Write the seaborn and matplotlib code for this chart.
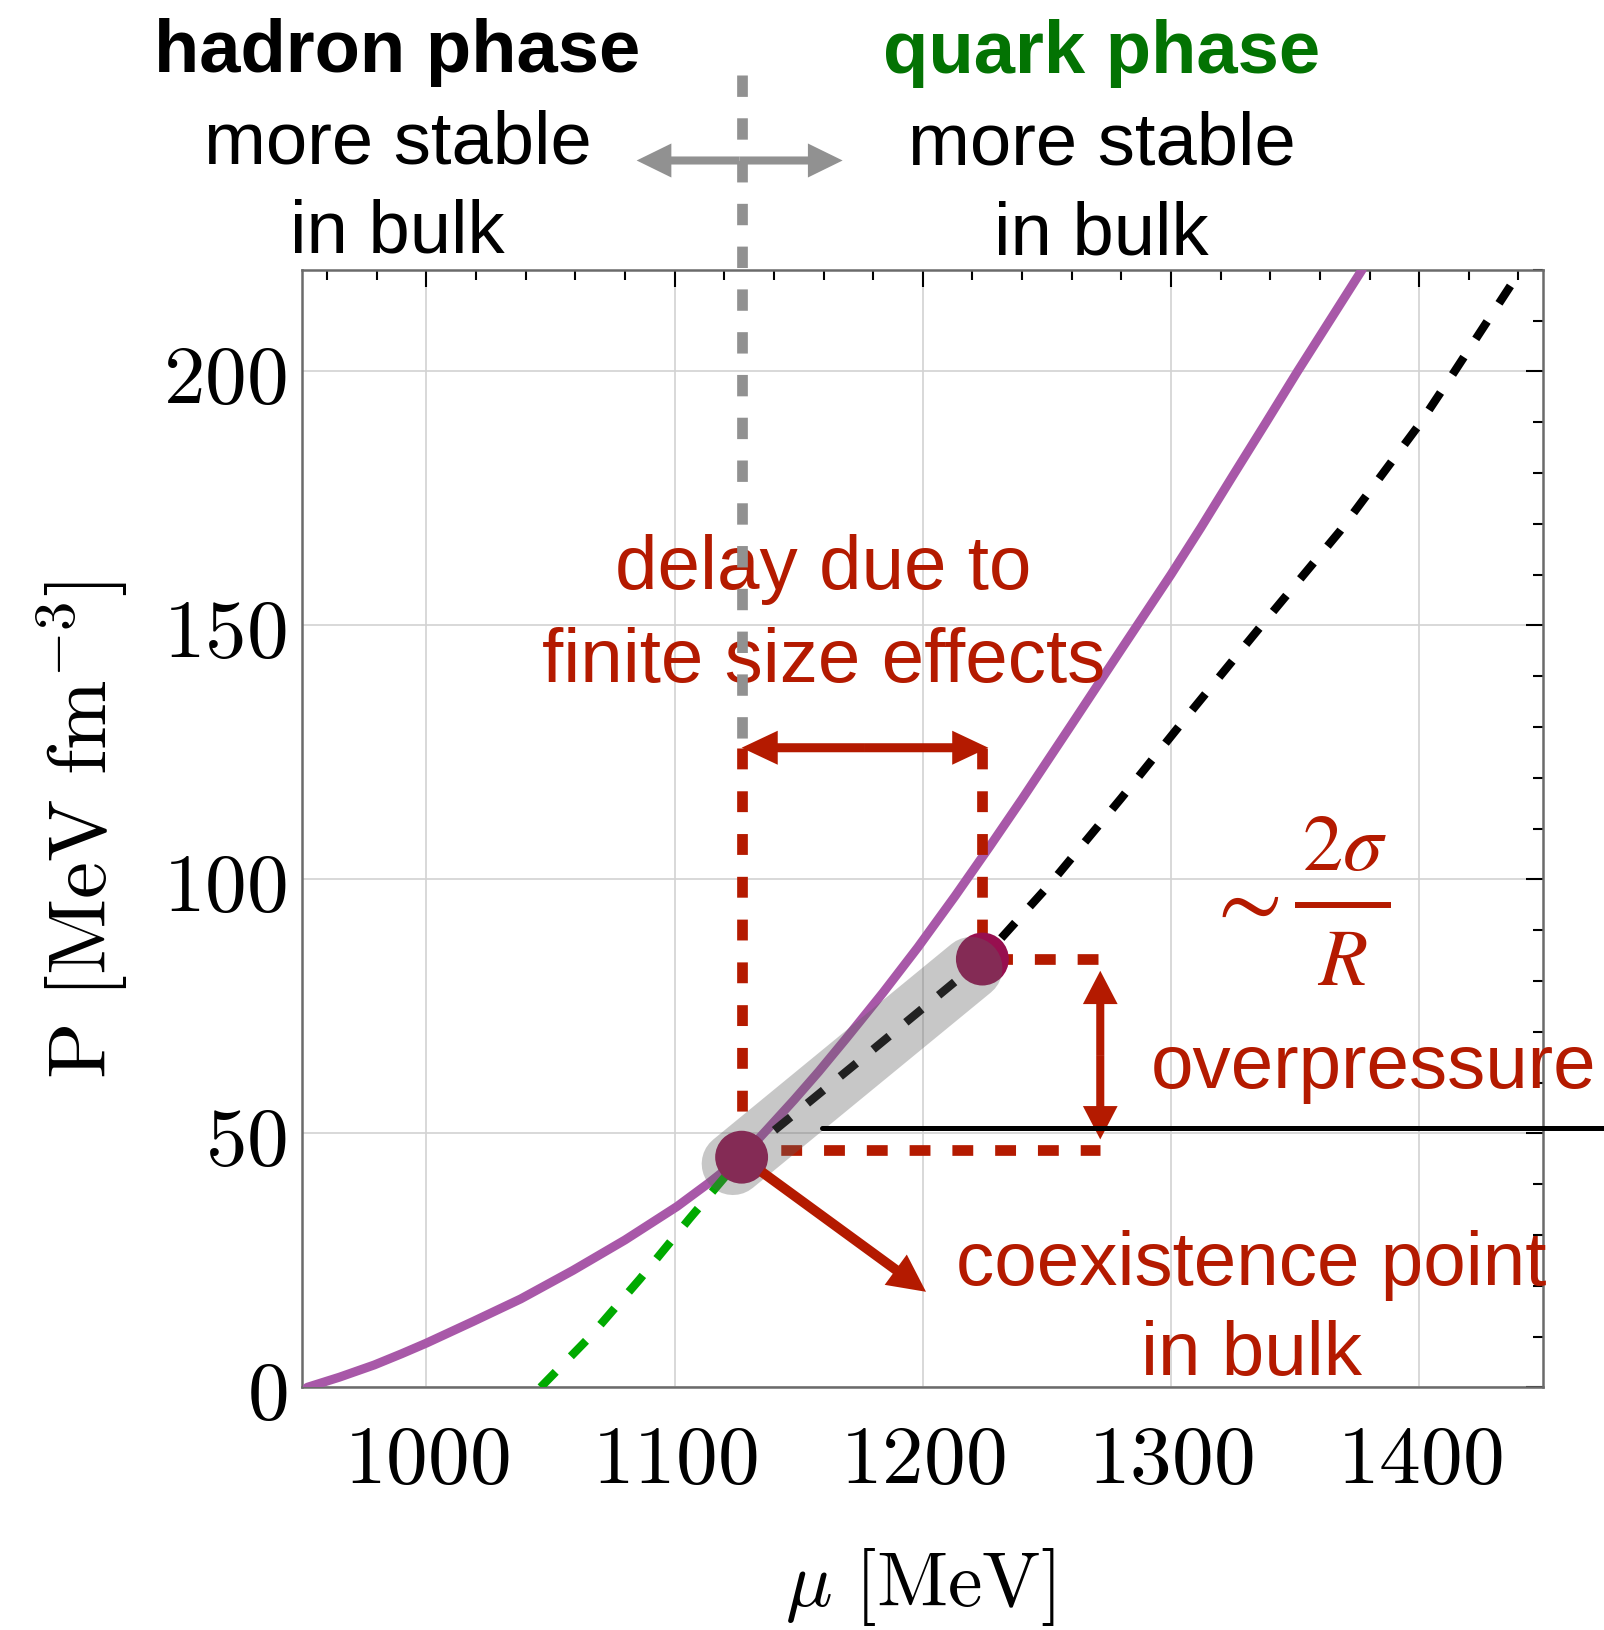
import matplotlib
matplotlib.use("Agg")
import matplotlib.pyplot as plt
import seaborn as sns
from matplotlib.ticker import MultipleLocator, FuncFormatter
from matplotlib.patches import FancyArrowPatch

# ---------------- data ----------------
# solid curve: hadron pressure below the coexistence point, finite-size branch above
mu_purple = [952, 965, 979, 990, 1000, 1019, 1038, 1059, 1080, 1101, 1114, 1127,
             1137, 1148, 1158, 1169, 1184, 1198, 1213, 1227, 1240, 1260, 1280,
             1300, 1312, 1325, 1338, 1351, 1364, 1377]
p_purple = [0.0, 2.0, 4.4, 6.6, 8.7, 13.0, 17.4, 23.0, 29.0, 35.6, 40.3, 45.3,
            50.6, 56.5, 62.1, 68.6, 77.7, 86.6, 96.7, 106.5, 115.8, 130.5, 145.3,
            160.0, 169.2, 179.5, 189.7, 200.0, 210.0, 220.0]

# quark pressure below the coexistence point (green, dashed)
mu_green = [1046, 1066, 1086, 1106, 1127]
p_green = [0.0, 10.0, 21.3, 33.2, 45.3]

# bulk pressure above the coexistence point (black, dashed)
mu_black = [1127, 1175, 1224, 1251.5, 1280, 1308, 1336.5, 1368, 1400, 1413.6, 1441]
p_black = [45.3, 64.5, 84.3, 99.2, 116.0, 133.0, 150.0, 168.5, 189.5, 199.5, 220.0]

# coexistence point in bulk and delayed transition point
mu_points = [1127, 1224]
p_points = [45.3, 84.3]

# annotation levels
p_delay_arrow = 125.9        # level of the "delay" double arrow
p_low_ref = 46.7             # lower end of the overpressure bracket
mu_bracket = 1271.5          # position of the overpressure arrow
p_hline = 51.1               # black reference line
mu_hline = [1159.4, 1474.5]

x_ticks = [1000, 1100, 1200, 1300, 1400]
y_ticks = [0, 50, 100, 150, 200]

# ---------------- style ----------------
sns.set_theme(style="white")
plt.rcParams["mathtext.fontset"] = "cm"
plt.rcParams["font.family"] = ["Liberation Sans", "DejaVu Sans"]
plt.rcParams["text.color"] = "black"
plt.rcParams["axes.labelcolor"] = "black"
plt.rcParams["xtick.color"] = "black"
plt.rcParams["ytick.color"] = "black"

PURPLE = "#a858a8"
GREEN = "#00aa00"
RED = "#b41a00"
DOT = "#970f4f"
GRAY = "#919191"
TXT_GREEN = "#037303"

fig = plt.figure(figsize=(16.04, 16.31), dpi=100)
ax = fig.add_axes([0.18847, 0.14880, 0.77369, 0.68522])
ax.set_xlim(950, 1450)
ax.set_ylim(0, 220)

ax.set_xticks(x_ticks)
ax.set_yticks(y_ticks)
ax.xaxis.set_minor_locator(MultipleLocator(20))
ax.yaxis.set_minor_locator(MultipleLocator(10))
fmt = FuncFormatter(lambda v, p: f"${v:.0f}$")
ax.xaxis.set_major_formatter(fmt)
ax.yaxis.set_major_formatter(fmt)
ax.grid(True, which="major", color="#d2d2d2", lw=1.2)
ax.set_axisbelow(True)
ax.tick_params(which="both", direction="in", top=True, right=True,
               color="black", labelcolor="black", width=1.5)
ax.tick_params(which="major", length=12.2, labelsize=60)
ax.tick_params(axis="x", which="major", pad=24)
ax.tick_params(axis="y", which="major", pad=11)
ax.tick_params(which="minor", length=7.2)
for s in ax.spines.values():
    s.set_color("#6b6b6b")
    s.set_linewidth(1.8)

ax.set_ylabel(r"$\mathrm{P\ [MeV\ fm}^{-3}\mathrm{]}$", fontsize=60, color="black")
ax.yaxis.set_label_coords(-0.138, 0.5)
ax.set_xlabel(r"$\mu\ \mathrm{[MeV]}$", fontsize=56, color="black")
ax.xaxis.set_label_coords(0.4977, -0.1415)
ax.xaxis.label.set_va("top")

# ---------------- curves ----------------
sns.lineplot(x=mu_purple, y=p_purple, ax=ax, color=PURPLE, lw=6.5,
             sort=False, estimator=None, zorder=3)
sns.lineplot(x=mu_green, y=p_green, ax=ax, color=GREEN, lw=6,
             linestyle=(0, (2.6, 2.6)), sort=False, estimator=None, zorder=3)
sns.lineplot(x=mu_black, y=p_black, ax=ax, color="black", lw=6,
             linestyle=(0, (2.5, 2.6)), sort=False, estimator=None, zorder=3)

# delay / overpressure bracket (red dashed)
dash_red = (0, (1.95, 2.05))
ax.plot([mu_points[0], mu_points[0]], [p_delay_arrow, p_points[0] + 0.5],
        color=RED, lw=7.7, linestyle=dash_red, zorder=4)
ax.plot([mu_points[0] - 1.5, mu_bracket], [p_low_ref, p_low_ref],
        color=RED, lw=7.7, linestyle=dash_red, zorder=4)
ax.plot([mu_points[1], mu_points[1]], [p_delay_arrow, p_points[1] - 4.5],
        color=RED, lw=7.7, linestyle=dash_red, zorder=4)
ax.plot([mu_bracket - 1, mu_points[1]], [p_points[1], p_points[1]],
        color=RED, lw=7.7, linestyle=dash_red, zorder=4)

# transition points
sns.scatterplot(x=mu_points, y=p_points, ax=ax, s=1450, color=DOT,
                edgecolor="none", linewidth=0, zorder=5)

# translucent band between the two points
ax.plot([mu_points[0] - 3.5, mu_points[1] - 4.5],
        [p_points[0] - 1.3, p_points[1] - 1.8],
        color=(97 / 255, 97 / 255, 97 / 255), alpha=0.35, lw=45,
        solid_capstyle="round", zorder=6)

# black reference line, running past the frame
ax.plot(mu_hline, [p_hline, p_hline], color="black", lw=3.6,
        clip_on=False, zorder=8)


def arrow(a, b, color, tail, hl, hw, zorder=7, shrink_a=0):
    ar = FancyArrowPatch(a, b, arrowstyle=f"simple,head_length={hl},head_width={hw},tail_width={tail}",
                         mutation_scale=1, color=color, lw=0,
                         shrinkA=shrink_a, shrinkB=0, zorder=zorder, clip_on=False)
    ax.add_patch(ar)


def double_arrow(a, b, color, tail, hl, hw, zorder=7):
    mid = ((a[0] + b[0]) / 2, (a[1] + b[1]) / 2)
    arrow(mid, a, color, tail, hl, hw, zorder)
    arrow(mid, b, color, tail, hl, hw, zorder)


# delay arrow
double_arrow((mu_points[0], p_delay_arrow), (1226.4, p_delay_arrow), RED, 6.5, 26, 24.5)
# overpressure arrow
double_arrow((mu_bracket, 48.8), (mu_bracket, 82.0), RED, 5.8, 24, 25)
# pointer to the coexistence point
arrow((mu_points[0], p_points[0]), (1201.3, 18.8), RED, 7.2, 27, 27, shrink_a=18)

# vertical marker through the coexistence point, extending above the frame
ax.plot([mu_points[0], mu_points[0]], [258.3, 127.6], color=GRAY, lw=7.7,
        linestyle=(0, (2, 2)), clip_on=False, zorder=9)
double_arrow((1084.7, 241.5), (1167.7, 241.5), GRAY, 5.8, 25, 24.5, zorder=9)

# ---------------- texts ----------------
FS = 53.5
ax.text(988.4, 259.1, "hadron phase", ha="center", va="baseline",
        fontsize=FS, fontweight="bold", color="black")
ax.text(988.4, 241.2, "more stable", ha="center", va="baseline", fontsize=FS, color="black")
ax.text(988.4, 223.5, "in bulk", ha="center", va="baseline", fontsize=FS, color="black")
ax.text(1272.0, 258.9, "quark phase", ha="center", va="baseline",
        fontsize=FS, fontweight="bold", color=TXT_GREEN)
ax.text(1272.0, 241.0, "more stable", ha="center", va="baseline", fontsize=FS, color="black")
ax.text(1272.0, 223.1, "in bulk", ha="center", va="baseline", fontsize=FS, color="black")

FR = 55
ax.text(1159.8, 157.3, "delay due to", ha="center", va="baseline", fontsize=FR, color=RED, zorder=8)
ax.text(1160.2, 139.0, "finite size effects", ha="center", va="baseline", fontsize=FR, color=RED, zorder=8)
ax.text(1381.8, 59.1, "overpressure", ha="center", va="baseline", fontsize=FR, color=RED, zorder=8)
ax.text(1332.2, 20.3, "coexistence point", ha="center", va="baseline", fontsize=FR, color=RED, zorder=8)
ax.text(1332.6, 2.6, "in bulk", ha="center", va="baseline", fontsize=FR, color=RED, zorder=8)

# ~ 2 sigma / R
ax.text(1328.5, 95.0, r"$\sim$", ha="center", va="center", fontsize=68,
        color=RED, math_fontfamily="stix")
ax.text(1370.1, 102.0, r"$\mathit{2}\sigma$", ha="center", va="baseline",
        fontsize=58, color=RED, math_fontfamily="stix")
ax.text(1368.9, 79.4, r"$R$", ha="center", va="baseline",
        fontsize=58, color=RED, math_fontfamily="stix")
ax.plot([1350.0, 1388.7], [95.0, 95.0], color=RED, lw=4.3, clip_on=False,
        solid_capstyle="butt")

fig.savefig("out.png", dpi=100)
